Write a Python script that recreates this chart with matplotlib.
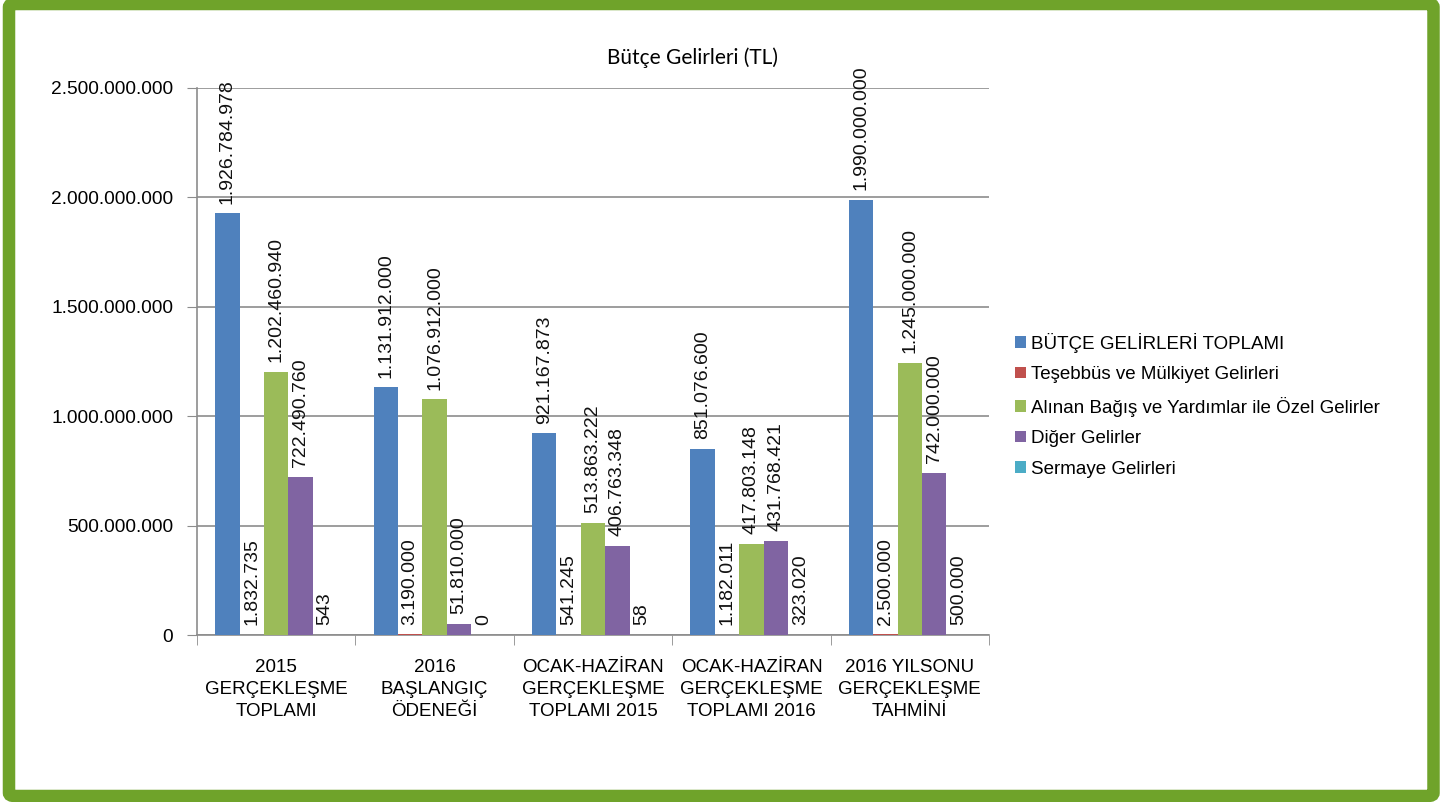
import numpy as np
import matplotlib.pyplot as plt
from matplotlib.patches import FancyBboxPatch
from matplotlib.ticker import FuncFormatter

plt.rcParams['font.family'] = ['Liberation Sans', 'DejaVu Sans']

categories = ['2015\nGERÇEKLEŞME\nTOPLAMI', '2016\nBAŞLANGIÇ\nÖDENEĞİ',
              'OCAK-HAZİRAN\nGERÇEKLEŞME\nTOPLAMI 2015',
              'OCAK-HAZİRAN\nGERÇEKLEŞME\nTOPLAMI 2016',
              '2016 YILSONU\nGERÇEKLEŞME\nTAHMİNİ']
series_names = ['BÜTÇE GELİRLERİ TOPLAMI', 'Teşebbüs ve Mülkiyet Gelirleri',
                'Alınan Bağış ve Yardımlar ile Özel Gelirler', 'Diğer Gelirler',
                'Sermaye Gelirleri']
butce_toplami = [1926784978, 1131912000, 921167873, 851076600, 1990000000]
tesebbus = [1832735, 3190000, 541245, 1182011, 2500000]
bagis_yardim = [1202460940, 1076912000, 513863222, 417803148, 1245000000]
diger = [722490760, 51810000, 406763348, 431768421, 742000000]
sermaye = [543, 0, 58, 323020, 500000]
colors = ['#4F81BD', '#C0504D', '#9BBB59', '#8064A2', '#4BACC6']

def tr_fmt(v):
    return f'{int(round(v)):,}'.replace(',', '.')

fig = plt.figure(figsize=(14.42, 8.02), dpi=100)
ax = fig.add_axes([0.1366, 0.2082, 0.5493, 0.6821])

# green frame around the whole picture
W, H = 1442, 802
frame = FancyBboxPatch((9 / W, 6 / H), 1424.5 / W, 792 / H,
                       boxstyle='round,pad=0,rounding_size=0.004',
                       transform=fig.transFigure, fill=False,
                       edgecolor='#6FA32A', linewidth=9, zorder=10)
fig.patches.append(frame)

x = np.arange(len(categories))
bw = 0.154
all_series = [butce_toplami, tesebbus, bagis_yardim, diger, sermaye]
for i, (vals, name, c) in enumerate(zip(all_series, series_names, colors)):
    pos = x + (i - 2) * bw
    ax.bar(pos, vals, width=bw, color=c, label=name, zorder=3)
    for px, v in zip(pos, vals):
        ax.annotate(tr_fmt(v), (px, v), xytext=(0, 7), textcoords='offset points',
                    rotation=90, ha='center', va='bottom', fontsize=14,
                    color='#111111', zorder=4)

ax.set_xlim(-0.5, len(categories) - 0.5)
ax.set_ylim(0, 2.5e9)
ax.set_yticks(np.arange(0, 2.5e9 + 1, 5e8))
ax.yaxis.set_major_formatter(FuncFormatter(lambda v, p: tr_fmt(v)))
ax.grid(axis='y', color='#8C8C8C', linewidth=1.2, zorder=0)
ax.tick_params(axis='y', length=7, color='#8C8C8C', labelsize=13.8, pad=10)

ax.set_xticks(x)
ax.set_xticklabels(categories, fontsize=13.5, linespacing=1.4)
ax.tick_params(axis='x', length=0, pad=17)
ax.set_xticks(np.arange(-0.5, len(categories)), minor=True)
ax.tick_params(axis='x', which='minor', length=7, color='#8C8C8C')

for s in ['top', 'right']:
    ax.spines[s].set_visible(False)
for s in ['left', 'bottom']:
    ax.spines[s].set_color('#8C8C8C')
    ax.spines[s].set_linewidth(1.2)

fig.text(0.4799, 0.928, 'Bütçe Gelirleri (TL)', ha='center', va='center',
         fontsize=15, family=['Lato', 'DejaVu Sans'])

ax.legend(loc='center left', bbox_to_anchor=(1.012, 0.42), frameon=False,
          fontsize=13.5, handlelength=0.55, handleheight=0.55, handletextpad=0.3,
          labelspacing=0.72)

fig.savefig('out.png', dpi=100)
